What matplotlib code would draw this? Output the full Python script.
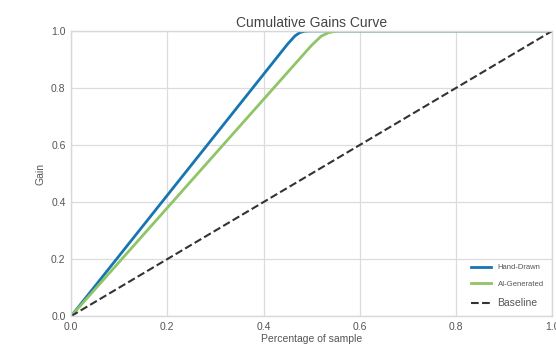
import matplotlib
matplotlib.use("Agg")
import matplotlib.pyplot as plt

plt.rcParams["font.family"] = ["Liberation Sans", "DejaVu Sans"]

hand_x = [0.0, 0.1, 0.2, 0.3, 0.4, 0.45, 0.465, 0.475, 0.485, 0.495, 1.0]
hand_y = [0.0, 0.212, 0.424, 0.636, 0.848, 0.954, 0.982, 0.994, 0.999, 1.0, 1.0]
ai_x = [0.0, 0.1, 0.2, 0.3, 0.4, 0.5, 0.52, 0.535, 0.55, 0.565, 1.0]
ai_y = [0.0, 0.19, 0.38, 0.57, 0.76, 0.95, 0.982, 0.994, 0.999, 1.0, 1.0]
base_x = [0.0, 1.0]
base_y = [0.0, 1.0]

fig = plt.figure(figsize=(5.56, 3.52), dpi=100)
ax = fig.add_axes([0.128, 0.102, 0.865, 0.81])
ax.set_facecolor("white")
ax.grid(True, color="#dcdcdc", linewidth=0.9)
ax.set_axisbelow(True)
for s in ax.spines.values():
    s.set_color("#d8d8d8")
    s.set_linewidth(1.0)

l1, = ax.plot(hand_x, hand_y, color="#1776b0", lw=2.0, label="Hand-Drawn")
l2, = ax.plot(ai_x, ai_y, color="#8fc567", lw=2.0, label="AI-Generated")
l3, = ax.plot(base_x, base_y, color="#333333", lw=1.5, ls="--", label="Baseline")

ax.set_xlim(0, 1)
ax.set_ylim(0, 1)
ax.set_xticks([0, 0.2, 0.4, 0.6, 0.8, 1.0])
ax.set_yticks([0, 0.2, 0.4, 0.6, 0.8, 1.0])
ax.tick_params(axis="both", labelsize=7.5, colors="#555555", length=0, pad=4)
ax.set_title("Cumulative Gains Curve", fontsize=10, color="#444444", pad=3)
ax.set_xlabel("Percentage of sample", fontsize=7.5, color="#555555", labelpad=2)
ax.set_ylabel("Gain", fontsize=7.5, color="#555555", labelpad=4)

leg = ax.legend(loc="lower right", frameon=False, fontsize=5.5, handlelength=2.7,
                borderaxespad=0.7, labelspacing=1.25)
texts = leg.get_texts()
for t in texts:
    t.set_color("#555555")
texts[2].set_fontsize(7.5)

fig.savefig("out.png", dpi=100, facecolor="white")
